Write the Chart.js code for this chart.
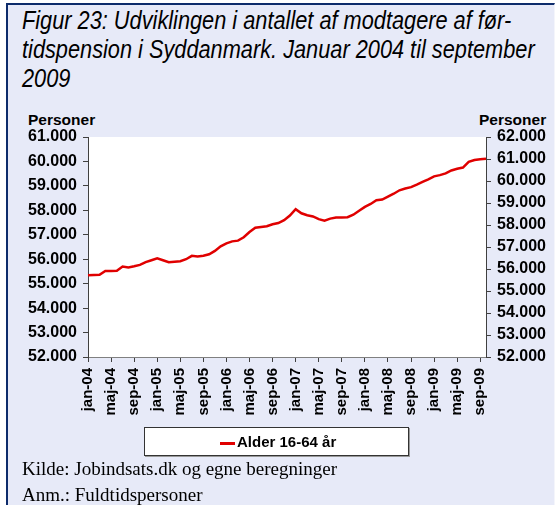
<!DOCTYPE html>
<html>
<head>
<meta charset="utf-8">
<script src="https://cdn.jsdelivr.net/npm/chart.js@4.4.0/dist/chart.umd.min.js"></script>
<style>
  body { margin: 0; width: 555px; height: 505px; overflow: hidden; background: #fff; }
  #frame {
    position: absolute; left: 6px; top: 3px; width: 546px; height: 520px;
    background: #e7eaf8; border-left: 2px solid #0d2b6b; border-top: 2px solid #0d2b6b;
    border-right: 1px solid #f4f5fb;
  }
  #title {
    position: absolute; left: 22px; top: 6px; white-space: nowrap;
    font: italic 25px "Liberation Sans", Arial, sans-serif;
    line-height: 29px; color: #000;
    transform: scaleX(0.87); transform-origin: 0 0;
  }
  .unit { position: absolute; top: 111px; font: bold 15.5px "Liberation Sans", Arial, sans-serif; color: #000; }
  #chartBox { position: absolute; left: 0; top: 100px; }
  #legend {
    position: absolute; left: 144px; top: 427px; width: 263px; height: 27px;
    background: #fff; border: 1px solid #333; box-shadow: 1px 1px 0 #999;
    font: bold 15px "Liberation Sans", Arial, sans-serif; color: #000;
  }
  #legend .swatch { position: absolute; left: 75px; top: 14px; width: 15px; height: 2.5px; background: #e00000; }
  #legend .txt { position: absolute; left: 92px; top: 5px; }
  .note { position: absolute; left: 22px; font: 19px "Liberation Serif", "Times New Roman", serif; color: #000; }
</style>
</head>
<body>
<div id="frame"></div>
<div id="title">Figur 23: Udviklingen i antallet af modtagere af før-<br>tidspension i Syddanmark. Januar 2004 til september<br>2009</div>
<div class="unit" style="left:28px">Personer</div>
<div class="unit" style="left:479px">Personer</div>
<div id="chartBox"><canvas id="chart" width="555" height="330"></canvas></div>
<div id="legend"><div class="swatch"></div><div class="txt">Alder 16-64 år</div></div>
<div class="note" style="top:458px">Kilde: Jobindsats.dk og egne beregninger</div>
<div class="note" style="top:484px">Anm.: Fuldtidspersoner</div>
<script>
// Danish month abbreviations and the years covered (jan-04 .. okt-09)
const monthNames = ['jan', 'feb', 'mar', 'apr', 'maj', 'jun', 'jul', 'aug', 'sep', 'okt', 'nov', 'dec'];
const years = ['04', '05', '06', '07', '08', '09'];
const lastMonthIndex = 9; // okt-09

const labels = [];
years.forEach((y, yi) => {
  monthNames.forEach((m, mi) => {
    if (yi < years.length - 1 || mi <= lastMonthIndex) labels.push(m + '-' + y);
  });
});

// Modtagere af førtidspension, alder 16-64 år
const alder1664 = [
  55340, 55350, 55360, 55520, 55520, 55530, 55700, 55660, 55710, 55770, 55880, 55960,
  56040, 55960, 55880, 55900, 55920, 56000, 56140, 56110, 56140, 56200, 56340, 56530,
  56650, 56730, 56760, 56900, 57110, 57290, 57320, 57350, 57430, 57480, 57600, 57790,
  58050, 57880, 57800, 57750, 57640, 57580, 57660, 57710, 57710, 57720, 57820, 57980,
  58140, 58260, 58410, 58440, 58560, 58680, 58820, 58890, 58950, 59050, 59160, 59270,
  59390, 59440, 59510, 59630, 59700, 59750, 59980, 60060, 60090, 60110
];

const leftAxis = { min: 52000, max: 61000, step: 1000 };
const rightAxis = { min: 52000, max: 62000, step: 1000 };

const fmt = v => (v / 1000) + '.000';
const tickFont = { family: '"Liberation Sans", Arial, sans-serif', size: 16, weight: 'bold' };

const plotBackground = {
  id: 'plotBackground',
  beforeDraw(chart) {
    const { ctx, chartArea: a } = chart;
    ctx.save();
    ctx.fillStyle = '#fff';
    ctx.fillRect(a.left, a.top, a.right - a.left, a.bottom - a.top);
    ctx.restore();
  }
};

new Chart('chart', {
  type: 'line',
  data: {
    labels: labels,
    datasets: [{
      label: 'Alder 16-64 år',
      data: alder1664,
      borderColor: '#e00000',
      borderWidth: 2.5,
      pointRadius: 0,
      tension: 0,
      yAxisID: 'y'
    }]
  },
  options: {
    responsive: false,
    animation: false,
    layout: { padding: { top: 37, left: 0, right: 0, bottom: 0 } },
    plugins: { legend: { display: false }, tooltip: { enabled: false } },
    scales: {
      x: {
        type: 'category',
        offset: false,
        afterFit: s => { s.height = 73; },
        border: { display: true, color: '#808080', width: 1 },
        grid: {
          offset: false,
          drawOnChartArea: false,
          tickLength: 5,
          color: ctx => ctx.index % 4 === 0 ? '#404040' : 'rgba(0,0,0,0)'
        },
        ticks: {
          autoSkip: false,
          minRotation: 90,
          maxRotation: 90,
          padding: 6,
          color: '#000',
          font: { family: '"Liberation Sans", Arial, sans-serif', size: 15, weight: 'bold' },
          callback: function (value, index) {
            return index % 4 === 0 ? this.getLabelForValue(value) : '';
          }
        }
      },
      y: {
        position: 'left',
        min: leftAxis.min,
        max: leftAxis.max,
        afterFit: s => { s.width = 88; },
        border: { display: true, color: '#404040', width: 1 },
        grid: { drawOnChartArea: false, tickLength: 5, color: '#404040' },
        ticks: { autoSkip: false, stepSize: leftAxis.step, padding: 6, color: '#000', font: tickFont, callback: fmt }
      },
      y2: {
        position: 'right',
        min: rightAxis.min,
        max: rightAxis.max,
        afterFit: s => { s.width = 69; },
        border: { display: true, color: '#404040', width: 1 },
        grid: { drawOnChartArea: false, tickLength: 5, color: '#404040' },
        ticks: { autoSkip: false, stepSize: rightAxis.step, padding: 6, color: '#000', font: tickFont, callback: fmt }
      }
    }
  },
  plugins: [plotBackground]
});
</script>
</body>
</html>
